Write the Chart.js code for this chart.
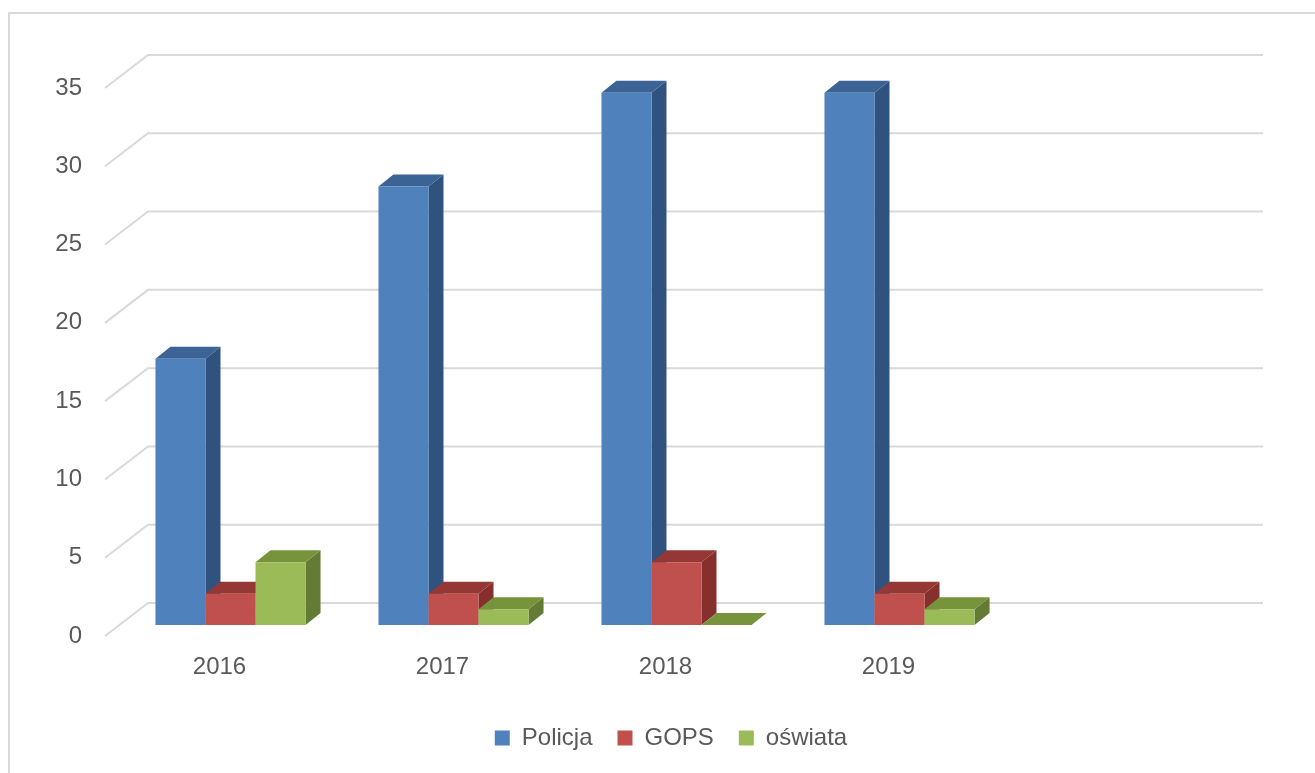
<!DOCTYPE html>
<html>
<head>
<meta charset="utf-8">
<script src="https://cdn.jsdelivr.net/npm/chart.js@4"></script>
<style>
  body { margin: 0; background: #fff; }
  .frame { position: absolute; left: 8px; top: 12px; width: 1320px; height: 780px;
           border-top: 2px solid #d9d9d9; border-left: 2px solid #d9d9d9; }
  .wrap { position: absolute; left: 0; top: 0; width: 1315px; height: 773px; }
</style>
</head>
<body>
<div class="frame"></div>
<div class="wrap"><canvas id="chart" width="1315" height="773"></canvas></div>
<script>
// Data (5th category is empty in the original)
const years = ['2016', '2017', '2018', '2019', ''];
const policja = [17, 28, 34, 34, null];
const gops = [2, 2, 4, 2, null];
const oswiata = [4, 1, 0, 1, null];
const yTicks = [0, 5, 10, 15, 20, 25, 30, 35];

// depth offsets for the fake 3D look
const BAR_DEPTH = { dx: 15, dy: -12 };
const FRONT_EDGE = { dx: -14, dy: 11 };
const BACK_WALL = { dx: 29, dy: -22 };

const poly = (ctx, pts, color) => {
  ctx.beginPath();
  ctx.moveTo(pts[0][0], pts[0][1]);
  pts.slice(1).forEach(p => ctx.lineTo(p[0], p[1]));
  ctx.closePath();
  ctx.fillStyle = color;
  ctx.fill();
};

// Draws walls + 3D bars from the bar elements the library laid out,
// in dataset order so each bar covers the side face of the one on its left.
const bar3d = {
  id: 'bar3d',
  beforeDatasetsDraw(chart) {
    const { ctx, chartArea: area, scales: { y } } = chart;
    ctx.save();
    ctx.strokeStyle = '#d9d9d9';
    ctx.lineWidth = 2;
    y.ticks.forEach(t => {
      const py = y.getPixelForValue(t.value);
      ctx.beginPath();
      ctx.moveTo(area.left + FRONT_EDGE.dx, py + FRONT_EDGE.dy);
      ctx.lineTo(area.left + BACK_WALL.dx, py + BACK_WALL.dy);
      ctx.lineTo(area.right + BACK_WALL.dx, py + BACK_WALL.dy);
      ctx.stroke();
    });

    chart.data.datasets.forEach((ds, di) => {
      const meta = chart.getDatasetMeta(di);
      meta.data.forEach((bar, i) => {
        if (ds.data[i] == null) return;
        const { x, y: top, base, width } = bar.getProps(['x', 'y', 'base', 'width'], true);
        const l = x - width / 2, r = x + width / 2;
        const { dx, dy } = BAR_DEPTH;
        poly(ctx, [[r, top], [r + dx, top + dy], [r + dx, base + dy], [r, base]], ds.sideColor);
        poly(ctx, [[l, top], [l + dx, top + dy], [r + dx, top + dy], [r, top]], ds.topColor);
        poly(ctx, [[l, top], [r, top], [r, base], [l, base]], ds.backgroundColor);
      });
    });
    ctx.restore();
    return false; // bars already drawn above
  }
};

const font = { family: '"Liberation Sans", Arial, sans-serif', size: 24 };

new Chart(document.getElementById('chart'), {
  type: 'bar',
  data: {
    labels: years,
    datasets: [
      { label: 'Policja', data: policja, backgroundColor: '#4f81bd', sideColor: '#30527f', topColor: '#3b6395' },
      { label: 'GOPS', data: gops, backgroundColor: '#c0504d', sideColor: '#862f2d', topColor: '#953735' },
      { label: 'oświata', data: oswiata, backgroundColor: '#9bbb59', sideColor: '#647b35', topColor: '#77933c' }
    ]
  },
  options: {
    responsive: false,
    animation: false,
    events: [],
    layout: { padding: { left: 27, right: 0, top: 77, bottom: 13 } },
    datasets: { bar: { categoryPercentage: 0.673, barPercentage: 1 } },
    scales: {
      x: {
        grid: { display: false, drawTicks: false },
        border: { display: false },
        ticks: { font, color: '#595959', padding: 28, labelOffset: -11 },
        afterFit: s => { s.height = 76; }
      },
      y: {
        min: 0, max: 35,
        afterBuildTicks: s => { s.ticks = yTicks.map(v => ({ value: v })); },
        grid: { display: false, drawTicks: false },
        border: { display: false },
        ticks: { font, color: '#595959', padding: 37, labelOffset: 11 },
        afterFit: s => { s.width = 92; }
      },
      // empty spacer on the right so the wall has room for its depth
      yRight: {
        position: 'right',
        min: 0, max: 35,
        grid: { display: false, drawTicks: false },
        border: { display: false },
        ticks: { display: false },
        afterFit: s => { s.width = 81; }
      }
    },
    plugins: {
      legend: {
        position: 'bottom',
        labels: { font, color: '#595959', boxWidth: 15, boxHeight: 15, padding: 25 }
      },
      tooltip: { enabled: false }
    }
  },
  plugins: [bar3d]
});
</script>
</body>
</html>
